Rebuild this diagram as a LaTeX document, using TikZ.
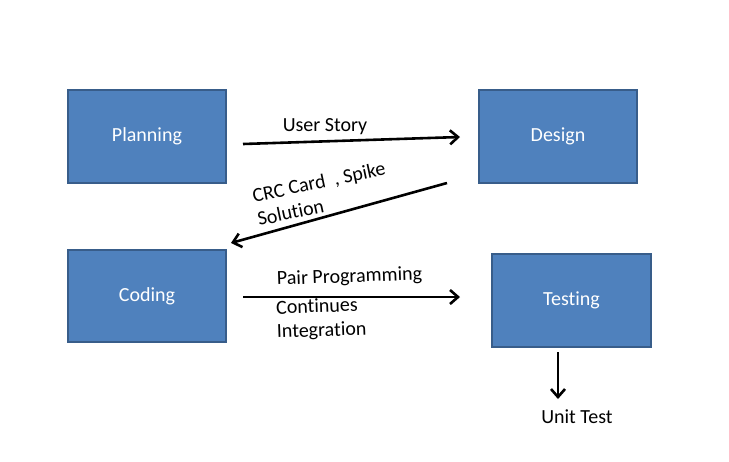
\documentclass[tikz,border=0pt]{standalone}
\usepackage{fontspec}
\setmainfont{Carlito}[Ligatures=NoCommon]
\usetikzlibrary{arrows.meta}
\definecolor{boxfill}{HTML}{4F81BD}
\definecolor{boxline}{HTML}{385D8A}
\begin{document}
\begin{tikzpicture}[x=1pt,y=-1pt,
  phase/.style={draw=boxline,fill=boxfill,line width=1.8pt,text=white,font=\fontsize{20}{24}\selectfont},
  flow/.style={line width=2.6pt,-{Straight Barb[length=8pt,width=14pt,line width=2.6pt]}},
  lbl/.style={font=\fontsize{20}{24}\selectfont,inner sep=0pt}]
\useasboundingbox (0,0) rectangle (729,461);
\node[phase,minimum width=158pt,minimum height=93pt] (plan) at (147,136.5) {Planning};
\node[phase,minimum width=158pt,minimum height=93pt] (design) at (558,136.5) {Design};
\node[phase,minimum width=158pt,minimum height=92pt] (coding) at (147,296) {Coding};
\node[phase,minimum width=159pt,minimum height=93pt] (testing) at (571.5,300.5) {Testing};
\coordinate (a1s) at (243,144);
\coordinate (a1e) at (460,137);
\coordinate (a2s) at (447,183);
\coordinate (a2e) at (231,243);
\coordinate (a3s) at (243,297);
\coordinate (a3e) at (460,297);
\coordinate (a4s) at (558,352);
\coordinate (a4e) at (558,399);
\draw[flow] (a1s) -- (a1e);
\draw[flow] (a2s) -- (a2e);
\draw[flow] (a3s) -- (a3e);
\draw[flow] (a4s) -- (a4e);
\node[lbl,anchor=base] (us) at (325,131) {User Story};
\node[lbl,anchor=base west,rotate=12,align=left] (crc) at (259,226) {CRC Card\ \ , Spike\\Solution};
\node[lbl,anchor=base west,rotate=2] (pp) at (277,285) {Pair Programming};
\node[lbl,anchor=base west,rotate=2,align=left] (ci) at (277,338) {Continues\\Integration};
\node[lbl,anchor=base] (ut) at (577,423) {Unit Test};
\end{tikzpicture}
\end{document}
